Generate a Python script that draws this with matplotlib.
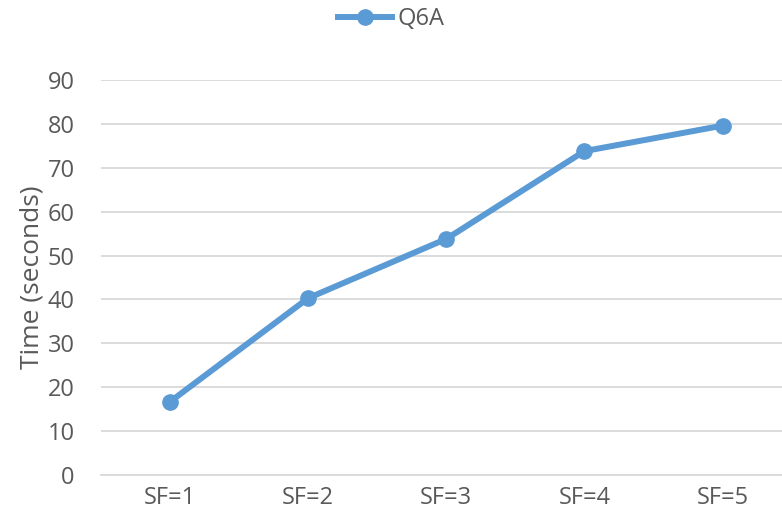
import matplotlib
matplotlib.use("Agg")
import matplotlib.pyplot as plt

categories = ["SF=1", "SF=2", "SF=3", "SF=4", "SF=5"]
q6a = [16.7, 40.3, 53.8, 73.8, 79.6]
yticks = [0, 10, 20, 30, 40, 50, 60, 70, 80, 90]

BLUE = "#5B9BD5"
GREY = "#595959"
plt.rcParams["font.family"] = ["Open Sans", "DejaVu Sans"]

fig = plt.figure(figsize=(7.82, 5.21), dpi=100)
ax = fig.add_axes([101 / 782, 46 / 521, 681 / 782, 395 / 521])
x = list(range(len(categories)))
ax.plot(x, q6a, "o-", color=BLUE, lw=4.3, ms=11, label="Q6A", zorder=3)

ax.set_xlim(-0.5, 4.43)
ax.set_ylim(0, 90)
ax.set_yticks(yticks)
ax.set_xticks(x)
ax.set_xticklabels(categories)
ax.grid(axis="y", color="#D9D9D9", lw=1.3)
ax.set_axisbelow(True)
for s in ["top", "right", "left"]:
    ax.spines[s].set_visible(False)
ax.spines["bottom"].set_color("#D9D9D9")
ax.spines["bottom"].set_linewidth(1.3)
ax.tick_params(length=0, labelsize=17, colors=GREY, pad=8)
ax.tick_params(axis="y", pad=19)
ax.set_ylabel("Time (seconds)", fontsize=19, color=GREY, labelpad=2)

ax.legend(loc="center", bbox_to_anchor=((391 - 101) / 681, 1 + 61 / 395),
          frameon=False, fontsize=17, labelcolor=GREY, handlelength=2.3, handletextpad=0.2)

fig.savefig("out.png", dpi=100)
